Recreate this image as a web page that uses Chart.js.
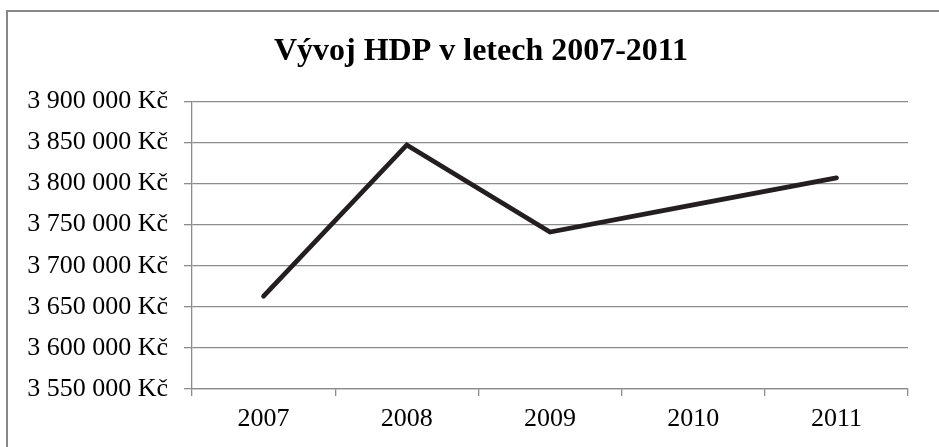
<!DOCTYPE html>
<html>
<head>
<meta charset="utf-8">
<script src="https://cdn.jsdelivr.net/npm/chart.js@4"></script>
<style>
	body { margin: 0; background: #fff; }
	#wrap { width: 939px; height: 447px; position: relative; }
</style>
</head>
<body>
<div id="wrap"><canvas id="hdp"></canvas></div>
<script>
// Roky a hodnoty HDP
const years = ['2007', '2008', '2009', '2010', '2011'];
const hdp = [3663000, 3847000, 3741000, 3774000, 3807000];
const yMin = 3550000;
const yMax = 3900000;
const yStep = 50000;
const chartTitle = 'Vývoj HDP v letech 2007-2011';

const gridColor = '#8c8c8c';
const serif = "'Liberation Serif', 'Times New Roman', serif";

// tisíce oddělené mezerou + Kč
const formatKc = (v) => String(v).replace(/\B(?=(\d{3})+(?!\d))/g, ' ') + ' Kč';

// rámeček grafu (jen horní a levá hrana jsou vidět) + posun nadpisu
const frame = {
	id: 'frame',
	afterLayout(chart) {
		// nadpis je v originále vycentrovaný kousek víc doprava
		chart.titleBlock.left = 54;
	},
	beforeDraw(chart) {
		const ctx = chart.ctx;
		ctx.save();
		ctx.strokeStyle = '#878787';
		ctx.lineWidth = 2;
		ctx.beginPath();
		ctx.moveTo(7, chart.height);
		ctx.lineTo(7, 11);
		ctx.lineTo(chart.width, 11);
		ctx.stroke();
		ctx.restore();
	},
};

new Chart(document.getElementById('hdp'), {
	type: 'line',
	plugins: [frame],
	data: {
		labels: years,
		datasets: [
			{
				data: hdp,
				borderColor: '#231f20',
				borderWidth: 4.8,
				pointRadius: 0,
				tension: 0,
				borderCapStyle: 'round',
			},
		],
	},
	options: {
		responsive: true,
		maintainAspectRatio: false,
		animation: false,
		layout: { padding: { left: 0, right: 31, top: 0, bottom: 0 } },
		plugins: {
			legend: { display: false },
			tooltip: { enabled: false },
			title: {
				display: true,
				text: chartTitle,
				color: '#000',
				font: { family: serif, size: 32, weight: 'bold' },
				padding: { top: 33, bottom: 30 },
			},
		},
		scales: {
			x: {
				offset: true,
				grid: { display: true, drawOnChartArea: false, offset: true, color: gridColor, tickLength: 7, lineWidth: 1.3 },
				border: { color: gridColor, width: 1.3 },
				ticks: { color: '#000', font: { family: serif, size: 26 }, padding: 8 },
				afterFit: (s) => { s.height = 58; },
			},
			y: {
				min: yMin,
				max: yMax,
				grid: { color: gridColor, tickLength: 8, lineWidth: 1.3 },
				border: { color: gridColor, width: 1.3 },
				ticks: {
					stepSize: yStep,
					color: '#000',
					font: { family: serif, size: 26 },
					padding: 16,
					callback: (v) => formatKc(v),
				},
				afterFit: (s) => { s.width = 192; },
			},
		},
	},
});
</script>
</body>
</html>
